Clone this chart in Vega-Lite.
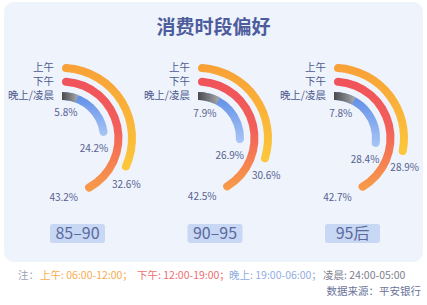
{
  "$schema": "https://vega.github.io/schema/vega-lite/v6.json",
  "width": 419,
  "height": 260,
  "autosize": "none",
  "padding": {"left": 4, "top": 2, "right": 4, "bottom": 43},
  "background": "#ffffff",
  "view": {"fill": "#eef3fc", "stroke": null, "cornerRadius": 10},
  "config": {"font": "Noto Sans CJK SC"},
  "title": {"text": "消费时段偏好", "fontSize": 19, "fontWeight": "bold", "color": "#4d5c9b", "anchor": "middle", "frame": "group", "offset": -36, "font": "Noto Sans CJK SC"},
  "datasets": {
    "prefs": [
      {"group": "85–90", "seg": "上午", "value": 0.326},
      {"group": "85–90", "seg": "下午", "value": 0.432},
      {"group": "85–90", "seg": "晚上", "value": 0.242},
      {"group": "85–90", "seg": "凌晨", "value": 0.058},
      {"group": "90–95", "seg": "上午", "value": 0.306},
      {"group": "90–95", "seg": "下午", "value": 0.425},
      {"group": "90–95", "seg": "晚上", "value": 0.269},
      {"group": "90–95", "seg": "凌晨", "value": 0.079},
      {"group": "95后", "seg": "上午", "value": 0.289},
      {"group": "95后", "seg": "下午", "value": 0.427},
      {"group": "95后", "seg": "晚上", "value": 0.284},
      {"group": "95后", "seg": "凌晨", "value": 0.078}
    ],
    "notes": [
      {"part": "注：", "kind": "note"},
      {"part": "上午: 06:00-12:00；", "kind": "上午"},
      {"part": "下午: 12:00-19:00；", "kind": "下午"},
      {"part": "晚上: 19:00-06:00；", "kind": "晚上"},
      {"part": "凌晨: 24:00-05:00", "kind": "凌晨"},
      {"part": "数据来源：平安银行", "kind": "source"}
    ]
  },
  "layer": [
    {
      "data": {"name": "prefs"},
      "encoding": {
        "x": {"field": "group", "type": "nominal", "axis": null, "scale": {"type": "point", "domain": ["85–90", "90–95", "95后"], "range": [58, 330], "padding": 0}},
        "y": {"value": 136}
      },
      "layer": [
        {
          "transform": [{"filter": "datum.seg === '上午'"}],
          "layer": [
            {
              "mark": {"type": "arc", "radius": 74, "radius2": 66, "cornerRadius": 4,
                "color": {"gradient": "linear", "x1": 0, "y1": 0, "x2": 0, "y2": 1, "stops": [{"offset": 0, "color": "#f8a037"}, {"offset": 1, "color": "#fcc83a"}]}},
              "encoding": {"theta": {"field": "value", "type": "quantitative", "stack": null, "scale": {"domain": [0, 1]}}}
            },
            {
              "mark": {"type": "text", "radius": 78, "dx": -5, "dy": 11, "fontSize": 10, "color": "#56618f"},
              "encoding": {
                "theta": {"field": "value", "type": "quantitative", "stack": null, "scale": {"domain": [0, 1]}},
                "text": {"field": "value", "type": "quantitative", "format": ".1%"}
              }
            },
            {
              "mark": {"type": "text", "text": "上午", "radius": 70, "theta": 0, "align": "right", "baseline": "middle", "dx": -8, "fontSize": 10.5, "color": "#4f5b8f"}
            }
          ]
        },
        {
          "transform": [{"filter": "datum.seg === '下午'"}],
          "layer": [
            {
              "mark": {"type": "arc", "radius": 60.5, "radius2": 52.5, "cornerRadius": 4,
                "color": {"gradient": "linear", "x1": 0, "y1": 0, "x2": 0, "y2": 1, "stops": [{"offset": 0, "color": "#f0525a"}, {"offset": 0.45, "color": "#f2605a"}, {"offset": 1, "color": "#f89d48"}]}},
              "encoding": {"theta": {"field": "value", "type": "quantitative", "stack": null, "scale": {"domain": [0, 1]}}}
            },
            {
              "mark": {"type": "text", "radius": 62, "dx": -24, "dy": 4, "fontSize": 10, "color": "#56618f"},
              "encoding": {
                "theta": {"field": "value", "type": "quantitative", "stack": null, "scale": {"domain": [0, 1]}},
                "text": {"field": "value", "type": "quantitative", "format": ".1%"}
              }
            },
            {
              "mark": {"type": "text", "text": "下午", "radius": 56.5, "theta": 0, "align": "right", "baseline": "middle", "dx": -8, "fontSize": 10.5, "color": "#4f5b8f"}
            }
          ]
        },
        {
          "transform": [{"filter": "datum.seg === '晚上'"}],
          "layer": [
            {
              "mark": {"type": "arc", "radius": 46, "radius2": 38, "cornerRadius": 4,
                "color": {"gradient": "linear", "x1": 0, "y1": 0, "x2": 0, "y2": 1, "stops": [{"offset": 0, "color": "#5b8ae6"}, {"offset": 1, "color": "#a8c5f5"}]}},
              "encoding": {"theta": {"field": "value", "type": "quantitative", "stack": null, "scale": {"domain": [0, 1]}}}
            },
            {
              "mark": {"type": "text", "radius": 42, "dx": -10, "dy": 13, "fontSize": 10, "color": "#56618f"},
              "encoding": {
                "theta": {"field": "value", "type": "quantitative", "stack": null, "scale": {"domain": [0, 1]}},
                "text": {"field": "value", "type": "quantitative", "format": ".1%"}
              }
            },
            {
              "mark": {"type": "text", "text": "晚上/凌晨", "radius": 42, "theta": 0, "align": "right", "baseline": "middle", "dx": -8, "fontSize": 10.5, "color": "#4f5b8f"}
            }
          ]
        },
        {
          "transform": [{"filter": "datum.seg === '凌晨'"}],
          "layer": [
            {
              "mark": {"type": "arc", "radius": 46, "radius2": 38, "cornerRadius": 0,
                "color": {"gradient": "linear", "x1": 0, "y1": 0, "x2": 1, "y2": 0, "stops": [{"offset": 0, "color": "#4a4a4c"}, {"offset": 1, "color": "#a9abb0"}]}},
              "encoding": {"theta": {"field": "value", "type": "quantitative", "stack": null, "scale": {"domain": [0, 1]}}}
            },
            {
              "mark": {"type": "text", "radius": 25, "dx": -5, "dy": -2, "fontSize": 10, "color": "#56618f"},
              "encoding": {
                "theta": {"field": "value", "type": "quantitative", "stack": null, "scale": {"domain": [0, 1]}},
                "text": {"field": "value", "type": "quantitative", "format": ".1%"}
              }
            }
          ]
        }
      ]
    },
    {
      "data": {"name": "prefs"},
      "transform": [{"filter": "datum.seg === '上午'"}],
      "encoding": {
        "x": {"field": "group", "type": "nominal", "axis": null, "scale": {"type": "point", "domain": ["85–90", "90–95", "95后"], "range": [73.5, 348.5], "padding": 0}},
        "y": {"value": 231.5}
      },
      "layer": [
        {
          "mark": {"type": "point", "filled": true, "opacity": 1, "fill": "#c8d7f4", "stroke": null, "size": 3025,
            "shape": "M-0.9,-0.345 L0.9,-0.345 Q1,-0.345 1,-0.245 L1,0.245 Q1,0.345 0.9,0.345 L-0.9,0.345 Q-1,0.345 -1,0.245 L-1,-0.245 Q-1,-0.345 -0.9,-0.345 Z"}
        },
        {
          "mark": {"type": "text", "fontSize": 16, "color": "#5a6a9c", "baseline": "middle", "align": "center"},
          "encoding": {"text": {"field": "group", "type": "nominal"}}
        }
      ]
    },
    {
      "data": {"name": "notes"},
      "layer": [
        {"transform": [{"filter": "datum.kind === 'note'"}], "mark": {"type": "text", "align": "left", "baseline": "middle", "fontSize": 10.5, "color": "#9ea2b6", "x": 14, "y": 273.5}, "encoding": {"text": {"field": "part"}}},
        {"transform": [{"filter": "datum.kind === '上午'"}], "mark": {"type": "text", "align": "left", "baseline": "middle", "fontSize": 10.5, "color": "#f6ac50", "x": 36, "y": 273.5}, "encoding": {"text": {"field": "part"}}},
        {"transform": [{"filter": "datum.kind === '下午'"}], "mark": {"type": "text", "align": "left", "baseline": "middle", "fontSize": 10.5, "color": "#ee6e70", "x": 133, "y": 273.5}, "encoding": {"text": {"field": "part"}}},
        {"transform": [{"filter": "datum.kind === '晚上'"}], "mark": {"type": "text", "align": "left", "baseline": "middle", "fontSize": 10.5, "color": "#93ace2", "x": 225, "y": 273.5}, "encoding": {"text": {"field": "part"}}},
        {"transform": [{"filter": "datum.kind === '凌晨'"}], "mark": {"type": "text", "align": "left", "baseline": "middle", "fontSize": 10.5, "color": "#7d808f", "x": 319, "y": 273.5}, "encoding": {"text": {"field": "part"}}},
        {"transform": [{"filter": "datum.kind === 'source'"}], "mark": {"type": "text", "align": "right", "baseline": "middle", "fontSize": 10.5, "color": "#6b7499", "x": 417, "y": 290}, "encoding": {"text": {"field": "part"}}}
      ]
    }
  ],
  "resolve": {"scale": {"x": "independent"}}
}
